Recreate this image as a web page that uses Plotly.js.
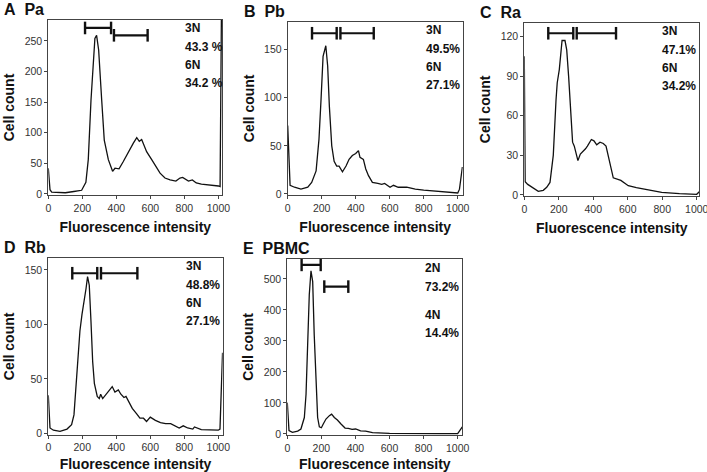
<!DOCTYPE html>
<html><head><meta charset="utf-8">
<script src="https://cdn.plot.ly/plotly-3.0.1.min.js"></script>
<style>body{margin:0;background:#fff}#chart{width:707px;height:472px}</style>
</head><body><div id="chart"></div>
<script>
// Panel A: Pa
const paX = [0,10,20,60,100,150,196,221,235,251,265,274,284,296,314,329,353,378,392,416,441,471,500,520,535,549,563,578,608,631,657,686,716,750,774,790,824,847,870,900,950,1000,1010,1018];
const paY = [42,7,3,2,2,4,6,19,56,153,225,254,259,235,153,88,56,37,42,41,53,69,83,92,86,89,80,69,56,45,34,26,23,21,26,27,21,23,18,16,15,13,12,300];
// Panel B: Pb
const pbX = [0,14,40,78,118,141,167,184,196,208,224,235,245,259,273,288,302,322,343,361,380,400,416,425,445,459,475,498,530,553,570,602,622,650,700,750,800,900,1000,1010,1027];
const pbY = [71,9,7,5,7,12,24,57,98,143,154,133,91,50,34,29,29,23,29,36,40,42,45,38,36,26,19,12,11,10,11,7,9,7,7,5,4,2.5,1,5,28];
// Panel C: Ra
const raX = [0,5,20,52,81,110,130,149,168,184,191,203,211,219,236,246,257,269,280,290,300,311,325,342,355,366,389,404,420,439,458,474,486,497,516,560,603,650,700,750,797,900,1000,1015];
const raY = [105,10,8,5,2.8,3.5,5.8,9.5,30,72,85,95,107,117,117,110,90,67,40,37,32,26,31,33,35,37,42,41,38,40,39,37,30,22,13,11,7,5.5,4.5,3.5,2,1,0.5,2.5];
// Panel D: Rb
const rbX = [0,10,30,69,110,137,151,163,180,186,198,210,222,231,241,251,261,271,288,300,308,320,339,359,376,392,412,427,445,457,476,494,520,539,560,578,600,630,660,690,720,750,770,794,820,850,860,900,950,1000,1010,1025];
const rbY = [35,5,3,2,4,8,17,42,84,94,109,120,133,144,136,103,66,46,34,32,36,32,36,40,43,38,40,36,33,34,29,23,18,14,14,11,15,12,10,9,9,7,5,7,5,4,6,3.5,3,3,4,74];
// Panel E: PBMC
const pbmcX = [0,10,30,61,80,100,110,119,129,139,149,158,168,178,188,200,211,227,247,260,276,294,315,339,358,380,401,430,460,500,600,700,800,900,1000,1027];
const pbmcY = [101,11,5,9,16,53,128,299,449,526,491,320,160,53,23,20,32,48,59,64,53,45,32,19,18,15,16,10,9,4,2,1,1,1,1,23];

// Gate bars [start, end, height]
const gatesA = [[216,369,271],[386,584,259]];
const gatesB = [[143,288,167],[310,506,167]];
const gatesC = [[139,284,122.5],[304,532,122.5]];
const gatesD = [[141,288,147],[310,524,147]];
const gatesE = [[84,196,545],[217,358,475]];

// Labels
const panelLabels = ["A\u00a0\u00a0Pa","B\u00a0\u00a0Pb","C\u00a0\u00a0Ra","D\u00a0\u00a0Rb","E\u00a0\u00a0PBMC"];
const ploidyA = ["3N","43.3 %","6N","34.2 %"];
const ploidyB = ["3N","49.5%","6N","27.1%"];
const ploidyC = ["3N","47.1%","6N","34.2%"];
const ploidyD = ["3N","48.8%","6N","27.1%"];
const ploidyE = ["2N","73.2%","4N","14.4%"];
const yMax = [284,179,130.5,160.7,564];
const xMax = [1023,1029,1015,1026,1027];
const yTicks = [[0,50,100,150,200,250],[0,50,100,150],[0,30,60,90,120],[0,50,100,150],[0,100,200,300,400,500]];
const xTicks = [0,200,400,600,800,1000];
const xTitle = "Fluorescence intensity";
const yTitle = "Cell count";

const W = 707, H = 472;
// plot boxes in pixels [left, right, top, bottom]
const boxes = [[48.3,222.3,20,195],[287.7,462.7,21.7,195],[524.3,699.3,22.7,196],[48.3,222.7,258.3,434.5],[287.3,462.3,259,435]];
const series = [[paX,paY],[pbX,pbY],[raX,raY],[rbX,rbY],[pbmcX,pbmcY]];
const gates = [gatesA,gatesB,gatesC,gatesD,gatesE];
const ploidy = [ploidyA,ploidyB,ploidyC,ploidyD,ploidyE];
// annotation text y positions (px) relative to plot top
const ployOffsets = [[8,27,45,63],[8,27,45,63],[8,27,45,63],[8,27,45,63],[9,28,56,74]];

const traces = [];
const layout = {width:W,height:H,margin:{l:0,r:0,t:0,b:0},paper_bgcolor:'#fff',plot_bgcolor:'#fff',
  showlegend:false,font:{family:'Arial, Liberation Sans, sans-serif',color:'#222'},annotations:[]};

boxes.forEach((b,i)=>{
  const n = i+1;
  const xa = n===1?'x':'x'+n, ya = n===1?'y':'y'+n;
  const xk = n===1?'xaxis':'xaxis'+n, yk = n===1?'yaxis':'yaxis'+n;
  traces.push({x:series[i][0],y:series[i][1],xaxis:xa,yaxis:ya,type:'scatter',mode:'lines',
    line:{color:'#111',width:1.3},hoverinfo:'skip'});
  gates[i].forEach(g=>{
    traces.push({x:[g[0],g[1]],y:[g[2],g[2]],xaxis:xa,yaxis:ya,type:'scatter',mode:'lines+markers',
      line:{color:'#111',width:2.2},marker:{symbol:'line-ns-open',size:9,line:{color:'#111',width:2.4}},
      cliponaxis:false,hoverinfo:'skip'});
  });
  const axCommon = {showgrid:false,zeroline:false,showline:true,mirror:true,linecolor:'#444',linewidth:1,
    ticks:'outside',ticklen:3,tickcolor:'#444',tickfont:{size:10.5,color:'#333'},fixedrange:true,
    ticklabeloverflow:'allow'};
  layout[xk] = Object.assign({},axCommon,{domain:[b[0]/W,b[1]/W],anchor:ya,range:[0,xMax[i]],
    tickvals:xTicks,ticktext:xTicks.map(String),
    title:{text:'<b>'+xTitle+'</b>',font:{size:14,color:'#111'},standoff:9}});
  layout[yk] = Object.assign({},axCommon,{domain:[1-b[3]/H,1-b[2]/H],anchor:xa,range:[-yMax[i]*0.006,yMax[i]],
    tickvals:yTicks[i],ticktext:yTicks[i].map(String),
    title:{text:'<b>'+yTitle+'</b>',font:{size:14,color:'#111'},standoff:6}});
  layout.annotations.push({text:'<b>'+panelLabels[i]+'</b>',xref:'paper',yref:'paper',
    x:(b[0]-46)/W,y:1-(b[2]-21)/H,xanchor:'left',yanchor:'top',showarrow:false,
    font:{size:16,color:'#111'}});
  ploidy[i].forEach((t,k)=>{
    layout.annotations.push({text:'<b>'+t+'</b>',xref:'paper',yref:'paper',
      x:(b[1]-39)/W,y:1-(b[2]+ployOffsets[i][k])/H,xanchor:'left',yanchor:'middle',showarrow:false,
      font:{size:12,color:'#111'}});
  });
});
Plotly.newPlot('chart',traces,layout,{staticPlot:true});
</script></body></html>
